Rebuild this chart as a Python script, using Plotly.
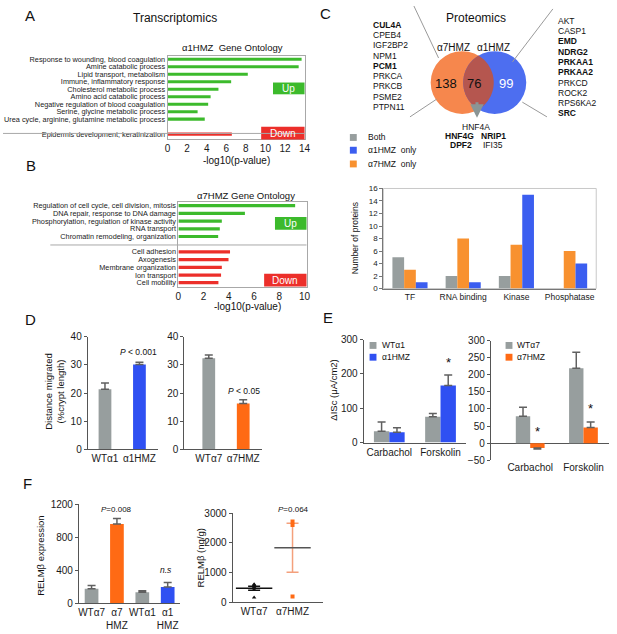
import numpy as np
import plotly.graph_objects as go

W, H = 617, 634
FONT = "Arial, Liberation Sans, sans-serif"

# ---------------- data ----------------
# A: transcriptomics, a1HMZ gene ontology (-log10 p)
a_up_terms = ["Response to wounding, blood coagulation", "Amine catabolic process",
              "Lipid transport, metabolism", "Immune, inflammatory response",
              "Cholesterol metabolic process", "Amino acid catabolic process",
              "Negative regulation of blood coagulation", "Serine, glycine metabolic process",
              "Urea cycle, arginine, glutamine metabolic process"]
a_up_vals = [13.7, 13.4, 8.2, 6.5, 5.2, 4.4, 4.15, 3.07, 3.8]
a_down_terms = ["Epidermis development, keratinization"]
a_down_vals = [6.57]

# B: a7HMZ gene ontology
b_up_terms = ["Regulation of cell cycle, cell division, mitosis", "DNA repair, response to DNA damage",
              "Phosphorylation, regulation of kinase activity", "RNA transport",
              "Chromatin remodeling, organization"]
b_up_vals = [9.25, 5.27, 3.44, 3.28, 3.15]
b_down_terms = ["Cell adhesion", "Axogenesis", "Membrane organization", "Ion transport", "Cell mobility"]
b_down_vals = [4.09, 3.97, 3.44, 3.38, 3.17]

# C: proteomics
venn_counts = [138, 76, 99]
left_genes = ["CUL4A", "CPEB4", "IGF2BP2", "NPM1", "PCM1", "PRKCA", "PRKCB", "PSME2", "PTPN11"]
left_bold = ["CUL4A", "PCM1"]
right_genes = ["AKT", "CASP1", "EMD", "NDRG2", "PRKAA1", "PRKAA2", "PRKCD", "ROCK2", "RPS6KA2", "SRC"]
right_bold = ["EMD", "NDRG2", "PRKAA1", "PRKAA2", "SRC"]
c_cats = ["TF", "RNA binding", "Kinase", "Phosphatase"]
c_both = [5, 2, 2, 0]
c_a7 = [3, 8, 7, 6]
c_a1 = [1, 1, 15, 4]

# D: migration
d1_groups = ["WTα1", "α1HMZ"]
d1_vals = [21.3, 30.1]
d1_err = [2.3, 0.8]
d7_groups = ["WTα7", "α7HMZ"]
d7_vals = [32.3, 16.3]
d7_err = [1.2, 1.3]

# E: short circuit current
e_cats = ["Carbachol", "Forskolin"]
e_wt1 = [33, 75]
e_wt1_err = [27, 10]
e_hmz1 = [30, 166]
e_hmz1_err = [13, 31]
e_wt7 = [79, 219]
e_wt7_err = [26, 47]
e_hmz7 = [-14, 46]
e_hmz7_err = [3, 16]

# F: RELMb
f_groups = ["WTα7", "α7<br>HMZ", "WTα1", "α1<br>HMZ"]
f_vals = [179, 962, 135, 199]
f_err = [40, 67, 20, 55]
f_wt7_pts = [615, 585, 560, 520, 440, 170]
f_hmz7_pts = [2720, 2600, 200]

# ---------------- colours ----------------
GREEN = "#3cba2c"
RED = "#ec2f2a"
GRAY = "#979e9e"
BLUE = "#2f50f2"
ORANGE = "#ff6a14"
C_ORANGE = "#f8912f"
C_BLUE = "#3b5ef0"
ERR = "#606060"


def xd(a, b):
    return [a / W, b / W]


def yd(top, bot):
    return [1 - bot / H, 1 - top / H]


def txt(x, y, s, size=9, anchor="center", color="#111", angle=0):
    return dict(x=x / W, y=1 - y / H, xref="paper", yref="paper", text=s, showarrow=False,
                font=dict(size=size, color=color, family=FONT), xanchor=anchor,
                yanchor="middle", textangle=angle)


def axis(dom, anchor, **kw):
    d = dict(domain=dom, anchor=anchor, showgrid=False, zeroline=False, linecolor="#555",
             linewidth=1, tickfont=dict(size=9, color="#1a1a1a", family=FONT), ticks="",
             fixedrange=True)
    d.update(kw)
    return d


def tf(size):
    return dict(size=size, color="#1a1a1a", family=FONT)


fig = go.Figure()

# ---- A ----
a_pos = list(range(len(a_up_vals))) + [len(a_up_vals) + 1 + i for i in range(len(a_down_vals))]
fig.add_trace(go.Bar(x=a_up_vals + a_down_vals, y=a_pos, orientation="h", width=0.42,
                     marker=dict(color=[GREEN] * len(a_up_vals) + [RED] * len(a_down_vals), line_width=0),
                     xaxis="x", yaxis="y"))
# ---- B ----
b_pos = list(range(len(b_up_vals))) + [len(b_up_vals) + 1 + i for i in range(len(b_down_vals))]
fig.add_trace(go.Bar(x=b_up_vals + b_down_vals, y=b_pos, orientation="h", width=0.42,
                     marker=dict(color=[GREEN] * len(b_up_vals) + [RED] * len(b_down_vals), line_width=0),
                     xaxis="x2", yaxis="y2"))

# ---- C bars ----
for vals, col, off in [(c_both, GRAY, -0.33), (c_a7, C_ORANGE, -0.11), (c_a1, C_BLUE, 0.11)]:
    fig.add_trace(go.Bar(x=c_cats, y=vals, width=0.22, offset=off, marker=dict(color=col, line_width=0),
                         xaxis="x3", yaxis="y3"))

# ---- D ----
eb = dict(type="data", symmetric=False, color=ERR, thickness=1.5, width=4)
fig.add_trace(go.Bar(x=d1_groups, y=d1_vals, width=0.37, marker=dict(color=[GRAY, BLUE], line_width=0),
                     error_y=dict(eb, array=d1_err, arrayminus=[0] * len(d1_err)), xaxis="x4", yaxis="y4"))
fig.add_trace(go.Bar(x=d7_groups, y=d7_vals, width=0.37, marker=dict(color=[GRAY, ORANGE], line_width=0),
                     error_y=dict(eb, array=d7_err, arrayminus=[0] * len(d7_err)), xaxis="x5", yaxis="y5"))


def err_updown(vals, errs):
    up = [e if v >= 0 else 0 for v, e in zip(vals, errs)]
    dn = [e if v < 0 else 0 for v, e in zip(vals, errs)]
    return dict(eb, array=up, arrayminus=dn)


# ---- E ----
fig.add_trace(go.Bar(x=e_cats, y=e_wt1, width=0.3, offset=-0.3, marker=dict(color=GRAY, line_width=0),
                     error_y=err_updown(e_wt1, e_wt1_err), xaxis="x6", yaxis="y6"))
fig.add_trace(go.Bar(x=e_cats, y=e_hmz1, width=0.3, offset=0, marker=dict(color=BLUE, line_width=0),
                     error_y=err_updown(e_hmz1, e_hmz1_err), xaxis="x6", yaxis="y6"))
fig.add_trace(go.Bar(x=e_cats, y=e_wt7, width=0.27, offset=-0.27, marker=dict(color=GRAY, line_width=0),
                     error_y=err_updown(e_wt7, e_wt7_err), xaxis="x7", yaxis="y7"))
fig.add_trace(go.Bar(x=e_cats, y=e_hmz7, width=0.27, offset=0, marker=dict(color=ORANGE, line_width=0),
                     error_y=err_updown(e_hmz7, e_hmz7_err), xaxis="x7", yaxis="y7"))

# ---- F ----
fig.add_trace(go.Bar(x=f_groups, y=f_vals, width=0.54,
                     marker=dict(color=[GRAY, ORANGE, GRAY, BLUE], line_width=0),
                     error_y=dict(eb, array=f_err, arrayminus=[0] * len(f_err)), xaxis="x8", yaxis="y8"))

for name, pts, pcol, lcol, mcol, sym in [("WTα7", f_wt7_pts, "#111", "#111", "#111", "triangle-up"),
                                         ("α7HMZ", f_hmz7_pts, ORANGE, "#f4a07c", "#555", "square")]:
    arr = np.array(pts, dtype=float)
    mean = arr.mean()
    sem = arr.std(ddof=1) / np.sqrt(len(arr))
    fig.add_trace(go.Scatter(x=[name], y=[mean], mode="markers",
                             marker=dict(symbol="line-ew", size=26, line=dict(width=1.5, color=mcol)),
                             error_y=dict(type="data", array=[sem], color=lcol, thickness=1.5, width=6),
                             xaxis="x9", yaxis="y9"))
    fig.add_trace(go.Scatter(x=[name] * len(pts), y=pts, mode="markers",
                             marker=dict(symbol=sym, size=4, color=pcol), xaxis="x9", yaxis="y9"))

# ---------------- layout axes ----------------
box = "#a8a8a8"
lay = dict(
    xaxis=axis(xd(167, 306), "y", range=[0, 14], tickvals=list(range(0, 15, 2)), showline=True, mirror=True,
               linecolor=box, tickfont=tf(10)),
    yaxis=axis(yd(51, 136), "x", range=[10.7, -0.43], tickvals=a_pos, ticktext=a_up_terms + a_down_terms,
               showline=True, mirror=True, linecolor=box, tickfont=tf(7.3)),
    xaxis2=axis(xd(178, 308), "y2", range=[0, 10.15], tickvals=list(range(0, 11, 2)), showline=True, mirror=True,
                linecolor=box, tickfont=tf(10)),
    yaxis2=axis(yd(200, 286), "x2", range=[10.5, -0.45], tickvals=b_pos, ticktext=b_up_terms + b_down_terms,
                showline=True, mirror=True, linecolor=box, tickfont=tf(7.3)),
    xaxis3=axis(xd(386, 602), "y3", showline=True, linecolor="#777", tickfont=tf(8.5)),
    yaxis3=axis(yd(186, 288), "x3", range=[0, 16], dtick=2, showline=True, linecolor="#777", ticks="outside",
                ticklen=3, tickcolor="#777", tickfont=tf(8)),
    xaxis4=axis(xd(86, 157), "y4", range=[-0.5, 1.53], showline=True, tickfont=tf(10)),
    yaxis4=axis(yd(337, 452), "x4", range=[0, 40], dtick=10, showline=True, ticks="outside", ticklen=3,
                tickcolor="#555", tickfont=tf(10)),
    xaxis5=axis(xd(184, 263), "y5", range=[-0.71, 1.55], showline=True, tickfont=tf(10)),
    yaxis5=axis(yd(337, 452), "x5", range=[0, 40], dtick=10, showline=True, ticks="outside", ticklen=3,
                tickcolor="#555", tickfont=tf(10)),
    xaxis6=axis(xd(366, 470), "y6", range=[-0.5, 1.5], showline=True, tickfont=tf(10)),
    yaxis6=axis(yd(340, 445), "x6", range=[0, 300], dtick=100, showline=True, ticks="outside", ticklen=3,
                tickcolor="#555", tickfont=tf(10)),
    xaxis7=axis(xd(495, 615), "y7", range=[-0.74, 1.48], showline=False, tickfont=tf(10)),
    yaxis7=axis(yd(341, 463), "x7", range=[-50, 300], dtick=50, showline=True, ticks="outside", ticklen=3,
                tickcolor="#555", zeroline=True, zerolinecolor="#555", zerolinewidth=1, tickfont=tf(10)),
    xaxis8=axis(xd(77, 180), "y8", showline=True, tickangle=0, tickfont=tf(10)),
    yaxis8=axis(yd(508, 609), "x8", range=[0, 1200], tickvals=[0, 400, 800, 1200], showline=True, ticks="outside",
                ticklen=3, tickcolor="#555", tickfont=tf(10)),
    xaxis9=axis(xd(233, 325), "y9", range=[-0.56, 1.8], showline=True, tickfont=tf(10)),
    yaxis9=axis(yd(517, 608), "x9", range=[0, 3000], dtick=1000, showline=True, ticks="outside", ticklen=3,
                tickcolor="#555", tickfont=tf(10)),
)

# ---------------- shapes ----------------
shapes = []


def rect(x0, y0, x1, y1, fill, line=None, layer="above"):
    return dict(type="rect", xref="paper", yref="paper", x0=x0 / W, x1=x1 / W, y0=1 - y1 / H, y1=1 - y0 / H,
                fillcolor=fill, line=dict(width=1 if line else 0, color=line or fill), layer=layer)


def seg(x0, y0, x1, y1, col="#9a9a9a", w=1):
    return dict(type="line", xref="paper", yref="paper", x0=x0 / W, x1=x1 / W, y0=1 - y0 / H, y1=1 - y1 / H,
                line=dict(color=col, width=w))


# Up / Down tags and separators
shapes += [rect(274, 78, 306, 90, GREEN), rect(262, 123, 306, 136, RED),
           rect(276, 215, 308, 228, GREEN), rect(265, 273, 308, 286, RED)]
shapes.append(dict(type="line", xref="paper", yref="y", x0=0, x1=306 / W, y0=len(a_up_vals) + 0.9,
                   y1=len(a_up_vals) + 0.9, line=dict(color=box, width=1)))
shapes.append(dict(type="line", xref="paper", yref="y2", x0=48 / W, x1=308 / W, y0=len(b_up_vals) + 0.1,
                   y1=len(b_up_vals) + 0.1, line=dict(color=box, width=1)))

# C bar frame
shapes.append(dict(type="rect", xref="x3 domain", yref="y3 domain", x0=0, x1=1, y0=0, y1=1,
                   line=dict(color="#c8c8c8", width=1), layer="below"))

# Venn diagram
c1, c2, r = (466, 78), (499, 78), 32


def circ(c, col):
    return dict(type="circle", xref="paper", yref="paper", x0=(c[0] - r) / W, x1=(c[0] + r) / W,
                y0=1 - (c[1] + r) / H, y1=1 - (c[1] - r) / H, fillcolor=col, line_width=0)


shapes += [circ(c1, "#f6874d"), circ(c2, "#4d6ef0")]
half = (c2[0] - c1[0]) / 2
th = np.arccos(half / r)
t1 = np.linspace(-th, th, 40)
t2 = np.linspace(np.pi - th, np.pi + th, 40)
lx = np.concatenate([c1[0] + r * np.cos(t1), c2[0] + r * np.cos(t2)])
ly = np.concatenate([c1[1] + r * np.sin(t1), c2[1] + r * np.sin(t2)])
path = "M " + " L ".join(f"{x / W:.5f},{1 - y / H:.5f}" for x, y in zip(lx, ly)) + " Z"
shapes.append(dict(type="path", xref="paper", yref="paper", path=path, fillcolor="#b5564f", line_width=0))
shapes += [seg(417, 0, 442, 53), seg(558, 3, 517, 57), seg(440, 95, 413, 113), seg(527, 98, 552, 113)]

# legends squares
for yy, col in zip([134, 147, 161], [GRAY, C_BLUE, C_ORANGE]):
    shapes.append(rect(352, yy - 3.5, 359, yy + 3.5, col))
for yy, col in zip([346, 358], [GRAY, BLUE]):
    shapes.append(rect(372, yy - 3.5, 379, yy + 3.5, col))
for yy, col in zip([346, 358], [GRAY, ORANGE]):
    shapes.append(rect(510, yy - 3.5, 517, yy + 3.5, col))

# ---------------- annotations ----------------
ann = [
    txt(27, 10, "A", 15), txt(175, 12, "Transcriptomics", 12), txt(233, 42, "α1HMZ  Gene Ontology", 9.5),
    txt(290, 84, "Up", 10, color="white"), txt(284, 129.5, "Down", 10, color="white"),
    txt(237, 157, "-log10(p-value)", 10),
    txt(28, 163, "B", 15), txt(247, 193, "α7HMZ Gene Ontology", 9.5),
    txt(292, 221.5, "Up", 10, color="white"), txt(286.5, 279.5, "Down", 10, color="white"),
    txt(248, 306, "-log10(p-value)", 10),
    txt(327, 8, "C", 15), txt(480, 12, "Proteomics", 12),
    txt(457, 42, "α7HMZ", 10), txt(498, 42, "α1HMZ", 10),
    txt(450, 79, str(venn_counts[0]), 13), txt(478, 79, str(venn_counts[1]), 13),
    txt(510, 79, str(venn_counts[2]), 13, color="white"),
    txt(480, 123, "HNF4A", 8.5), txt(463, 132, "<b>HNF4G</b>", 8.5), txt(498, 132, "<b>NRIP1</b>", 8.5),
    txt(465, 142, "<b>DPF2</b>", 8.5), txt(497, 142, "IFI35", 8.5),
    txt(368, 134, "Both", 8.5, "left"), txt(368, 147, "α1HMZ  only", 8.5, "left"),
    txt(368, 161, "α7HMZ  only", 8.5, "left"),
    txt(357, 237, "Number of proteins", 8.5, angle=-90),
    txt(28, 320, "D", 15), txt(52, 393, "Distance migrated<br>(%crypt length)", 9.5, angle=-90),
    txt(137, 353, "<i>P</i> < 0.001", 8.5), txt(245, 392, "<i>P</i> < 0.05", 8.5),
    txt(330, 318, "E", 15), txt(335, 392, "ΔISc (μA/cm2)", 9.5, angle=-90),
    txt(383, 346, "WTα1", 8.5, "left"), txt(383, 358, "α1HMZ", 8.5, "left"),
    txt(520, 346, "WTα7", 8.5, "left"), txt(520, 358, "α7HMZ", 8.5, "left"),
    txt(25, 487, "F", 15), txt(38, 560, "RELMβ expression", 9.5, angle=-90),
    txt(115, 513, "<i>P</i>=0.008", 8), txt(165, 575, "<i>n.s</i>", 8.5),
    txt(200, 563, "RELMβ (ng/g)", 9.5, angle=-90), txt(295, 513, "<i>P</i>=0.064", 8),
]
for i, g in enumerate(left_genes):
    ann.append(txt(373, 19 + 10.5 * i, f"<b>{g}</b>" if g in left_bold else g, 8.5, "left"))
for i, g in enumerate(right_genes):
    ann.append(txt(561, 15 + 10.5 * i, f"<b>{g}</b>" if g in right_bold else g, 8.5, "left"))

# asterisks
ann.append(dict(x=1, y=e_hmz1[1] + e_hmz1_err[1] + 8, xref="x6", yref="y6", xshift=7.5, text="*",
                showarrow=False, font=dict(size=13, color="#111", family=FONT), yanchor="bottom"))
ann.append(dict(x=0, y=35, xref="x7", yref="y7", xshift=7, text="*",
                showarrow=False, font=dict(size=13, color="#111", family=FONT)))
ann.append(dict(x=1, y=102, xref="x7", yref="y7", xshift=7, text="*",
                showarrow=False, font=dict(size=13, color="#111", family=FONT)))

# arrow from intersection
ann.append(dict(x=481 / W, y=1 - 114 / H, xref="paper", yref="paper", ax=0, ay=-17, text="",
                showarrow=True, arrowhead=2, arrowsize=0.9, arrowwidth=3, arrowcolor="#8a9595"))

fig.update_layout(
    width=W, height=H, margin=dict(l=0, r=0, t=0, b=0), showlegend=False,
    paper_bgcolor="white", plot_bgcolor="white", barmode="overlay",
    font=dict(family=FONT, color="#111"),
    shapes=shapes, annotations=ann, **lay,
)

# page has a default 8px body margin; drop it so the figure sits at the window origin
fig.write_html("out.html", config={"displayModeBar": False},
               post_script="document.body.style.margin='0';")
